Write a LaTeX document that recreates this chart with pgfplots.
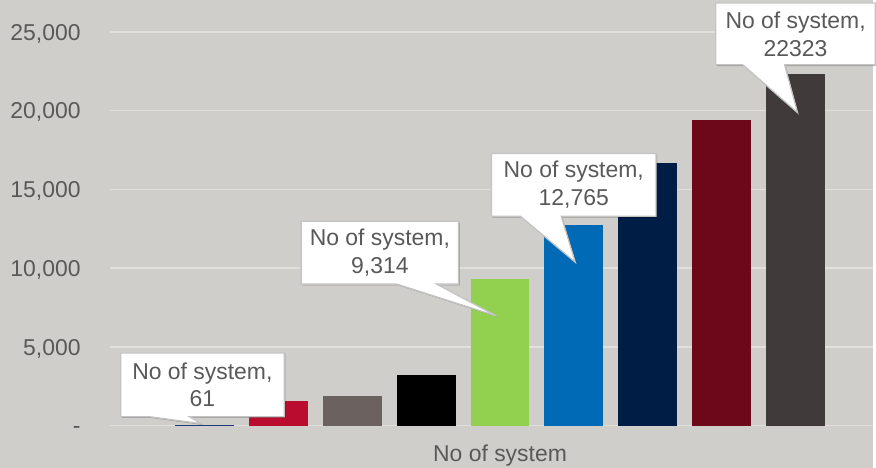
\documentclass[border=0pt]{standalone}
\usepackage{pgfplots}
\pgfplotsset{compat=1.18}
\usepackage{fontspec}
\setmainfont{Liberation Sans}
\usetikzlibrary{shadows}
\definecolor{bg}{HTML}{D0CECA}
\definecolor{gridc}{HTML}{E2E0DD}
\definecolor{txt}{HTML}{595959}
\definecolor{bordc}{HTML}{C4C4C4}
\definecolor{c1}{HTML}{1F3A78}
\definecolor{c2}{HTML}{BA0C2F}
\definecolor{c3}{HTML}{6B625F}
\definecolor{c4}{HTML}{000000}
\definecolor{c5}{HTML}{92D050}
\definecolor{c6}{HTML}{006AB6}
\definecolor{c7}{HTML}{001E45}
\definecolor{c8}{HTML}{6D081B}
\definecolor{c9}{HTML}{403A3A}
\tikzset{clbox/.style={fill=white, draw=bordc, line width=1.3pt, line join=miter,
  drop shadow={shadow xshift=1.2pt, shadow yshift=-1.2pt, opacity=0.25, fill=black}},
  cltext/.style={align=center, font=\fontsize{23}{28}\selectfont, text=txt, inner sep=0pt}}
\begin{document}
\begin{tikzpicture}
\fill[bg] (-110pt,-42pt) rectangle (766pt,427pt);
\begin{axis}[
  at={(0,0)}, anchor=south west, scale only axis,
  width=766pt, height=395pt,
  xmin=-0.282, xmax=10.052, ymin=0, ymax=25000,
  axis line style={draw=none},
  major tick length=0pt,
  scaled y ticks=false,
  ytick={0,5000,10000,15000,20000,25000},
  yticklabels={-,{5,000},{10,000},{15,000},{20,000},{25,000}},
  xtick={5}, xticklabels={No of system},
  ymajorgrids, grid style={color=gridc, line width=1.5pt},
  tick label style={font=\fontsize{23}{27}\selectfont, text=txt},
  /pgf/number format/assume math mode=true,
  yticklabel style={anchor=base east, inner sep=0pt, xshift=-29pt, yshift=-8.2pt},
  xticklabel style={anchor=base, inner sep=0pt, yshift=-36pt},
  clip=false,
]
\addplot[ybar, bar width=59pt, bar shift=0pt, fill=c1, draw=none] coordinates {(1,61)};
\addplot[ybar, bar width=59pt, bar shift=0pt, fill=c2, draw=none] coordinates {(2,1540)};
\addplot[ybar, bar width=59pt, bar shift=0pt, fill=c3, draw=none] coordinates {(3,1900)};
\addplot[ybar, bar width=59pt, bar shift=0pt, fill=c4, draw=none] coordinates {(4,3230)};
\addplot[ybar, bar width=59pt, bar shift=0pt, fill=c5, draw=none] coordinates {(5,9314)};
\addplot[ybar, bar width=59pt, bar shift=0pt, fill=c6, draw=none] coordinates {(6,12765)};
\addplot[ybar, bar width=59pt, bar shift=0pt, fill=c7, draw=none] coordinates {(7,16700)};
\addplot[ybar, bar width=59pt, bar shift=0pt, fill=c8, draw=none] coordinates {(8,19430)};
\addplot[ybar, bar width=59pt, bar shift=0pt, fill=c9, draw=none] coordinates {(9,22323)};
% callout 61
\draw[clbox] (axis cs:-0.1332,4620) -- (axis cs:2.0793,4620) -- (axis cs:2.0793,570) -- (axis cs:0.7976,570) -- (axis cs:0.9595,127) -- (axis cs:0.258,570) -- (axis cs:-0.1332,570) -- cycle;
\node[cltext] at (axis cs:0.973,2595) {No of system,\\61};
% callout 9,314
\draw[clbox] (axis cs:2.3086,12975) -- (axis cs:4.4401,12975) -- (axis cs:4.4401,8987) -- (axis cs:4.1433,8987) -- (axis cs:4.9528,6962) -- (axis cs:3.6037,8987) -- (axis cs:2.3086,8987) -- cycle;
\node[cltext] at (axis cs:3.3744,10981) {No of system,\\9,314};
% callout 12,765
\draw[clbox] (axis cs:4.8853,17278) -- (axis cs:7.1113,17278) -- (axis cs:7.1113,13291) -- (axis cs:5.8297,13291) -- (axis cs:6.0186,10380) -- (axis cs:5.2766,13291) -- (axis cs:4.8853,13291) -- cycle;
\node[cltext] at (axis cs:5.9983,15285) {No of system,\\12,765};
% callout 22323
\draw[clbox] (axis cs:7.9207,26835) -- (axis cs:10.0793,26835) -- (axis cs:10.0793,22911) -- (axis cs:8.8516,22911) -- (axis cs:9.027,19873) -- (axis cs:8.285,22911) -- (axis cs:7.9207,22911) -- cycle;
\node[cltext] at (axis cs:9.0,24873) {No of system,\\22323};
\end{axis}
\useasboundingbox (-110pt,-42pt) rectangle (766pt,427pt);
\end{tikzpicture}
\end{document}
